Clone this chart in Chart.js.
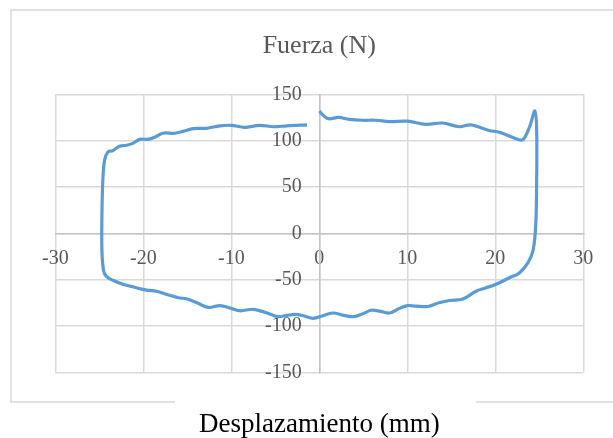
<!DOCTYPE html>
<html>
<head>
<meta charset="utf-8">
<script src="https://cdn.jsdelivr.net/npm/chart.js@4/dist/chart.umd.min.js"></script>
<style>
  html, body { margin: 0; padding: 0; background: #fff; }
  #wrap { width: 613px; height: 438px; position: relative; }
</style>
</head>
<body>
<div id="wrap"><canvas id="loop"></canvas></div>
<script>
// Hysteresis loop: displacement (mm) vs force (N), traced in test order
const desplazamiento = [
  0, 0.6, 1.1, 2.2, 3.4, 4.9, 6.4, 8.0, 10, 12.1, 14, 15.9, 17.2, 19.3, 20.5, 22.7, 23.2, 23.9, 24.5,
  24.7, 24.7, 24.6, 24.3, 23.7, 22.7, 21.6, 20.1, 18.9, 17.8, 16.3, 14.8, 13.6, 12.3, 11.0, 10.0, 9.1,
  8.0, 6.8, 5.9, 4.9, 3.9, 2.8, 1.5, 0.4, -0.7, -1.8, -2.8, -3.7, -4.7, -6.0, -7.5, -9.0, -10, -11.3,
  -12.6, -13.9, -15.1, -16.0, -17.3, -18.5, -19.6, -21.1, -22.3, -23.4, -24.2, -24.5, -24.7, -24.7,
  -24.6, -24.4, -24.0, -23.5, -22.7, -21.9, -21.2, -20.4, -19.5, -18.7, -17.8, -16.4, -15.5, -14.3,
  -12.8, -11.3, -10, -8.5, -6.8, -5.2, -3.7, -1.4
];
const fuerza = [
  132, 126, 123.5, 125, 123, 122, 122, 120.5, 121, 117.6, 119, 115, 117, 111, 109, 101, 101.5, 115, 132,
  111, 57, 10, -18, -32, -43, -48, -55, -59, -62.5, -71, -72.5, -75, -79, -78.6, -78, -81,
  -86, -84, -83, -87, -90, -88.6, -86, -89, -91.8, -89, -87.5, -88.6, -90, -85.7, -82, -83.6, -81, -78,
  -80, -75, -70.7, -69.6, -66, -62.5, -61.4, -58, -55, -51, -46.4, -41, -20, 20,
  57, 79, 88, 89, 94, 95, 97, 101.4, 101.4, 103.6, 108, 108, 110, 113,
  113.3, 116, 116.5, 114.4, 116.5, 115, 116, 117
];
const xTicks = [-30, -20, -10, 0, 10, 20, 30];
const yTicks = [-150, -100, -50, 0, 50, 100, 150];

const SERIF = "'Liberation Serif', 'Times New Roman', serif";
const GRID = '#d9d9d9';
const TICK_TXT = '#595959';
const Y_LABEL_GAP = 17.6;

/* outer frame of the chart object, open where the axis title sits */
const framePlugin = {
  id: 'frame',
  beforeDraw(chart) {
    const { ctx } = chart;
    ctx.save();
    ctx.strokeStyle = GRID;
    ctx.lineWidth = 1.5;
    ctx.beginPath();
    ctx.moveTo(175, 402); ctx.lineTo(11, 402);
    ctx.lineTo(11, 10); ctx.lineTo(620, 10);
    ctx.moveTo(476, 402); ctx.lineTo(620, 402);
    ctx.stroke();
    ctx.restore();
  }
};

/* a y axis crossing at x=0 ignores ticks.padding, so push its labels left */
const yLabelGapPlugin = {
  id: 'yLabelGap',
  beforeDraw(chart) {
    const items = chart.scales.y.getLabelItems();
    if (items._shifted) return;
    items.forEach(it => { it.options.translation[0] -= Y_LABEL_GAP; });
    items._shifted = true;
  }
};

const points = desplazamiento.map((x, i) => ({ x, y: fuerza[i] }));

new Chart(document.getElementById('loop'), {
  type: 'scatter',
  data: {
    datasets: [{
      data: points,
      showLine: true,
      borderColor: '#5B9BD5',
      borderWidth: 3.2,
      pointRadius: 0,
      tension: 0.35,
      fill: false
    }]
  },
  options: {
    responsive: true,
    maintainAspectRatio: false,
    animation: false,
    layout: { padding: { left: 55.3, right: 29.7, top: 0, bottom: 0 } },
    plugins: {
      legend: { display: false },
      tooltip: { enabled: false },
      title: {
        display: true,
        text: 'Fuerza (N)',
        color: TICK_TXT,
        font: { family: SERIF, size: 26, weight: 'normal', lineHeight: 1.2 },
        padding: { top: 30.4, bottom: 32.7 }
      },
      subtitle: {
        display: true,
        position: 'bottom',
        text: 'Desplazamiento (mm)',
        color: '#000',
        font: { family: SERIF, size: 27, weight: 'normal', lineHeight: 1 },
        padding: { top: 38.7, bottom: 0 }
      }
    },
    scales: {
      x: {
        type: 'linear',
        position: { y: 0 },
        min: -30, max: 30,
        afterFit(s) { s.height = 0; },
        afterBuildTicks(s) { s.ticks = xTicks.map(v => ({ value: v })); },
        ticks: { color: TICK_TXT, font: { family: SERIF, size: 20 }, padding: 13 },
        grid: { color: GRID, lineWidth: 1.5, drawTicks: false },
        border: { color: '#c4c4c4', width: 1.5 }
      },
      y: {
        type: 'linear',
        position: { x: 0 },
        min: -150, max: 150,
        afterFit(s) { s.width = 0; },
        afterBuildTicks(s) { s.ticks = yTicks.map(v => ({ value: v })); },
        ticks: { color: TICK_TXT, font: { family: SERIF, size: 20 } },
        grid: { color: GRID, lineWidth: 1.5, drawTicks: false },
        border: { color: '#c4c4c4', width: 1.5 }
      }
    }
  },
  plugins: [framePlugin, yLabelGapPlugin]
});
</script>
</body>
</html>
